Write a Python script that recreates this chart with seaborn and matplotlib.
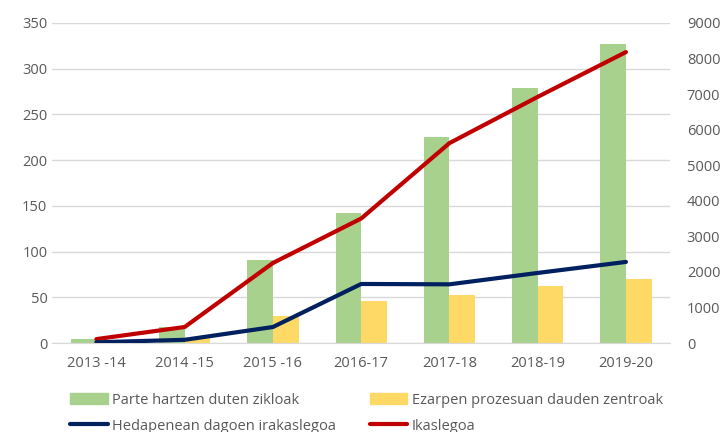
import numpy as np
import pandas as pd
import seaborn as sns
import matplotlib.pyplot as plt
from matplotlib.lines import Line2D
from matplotlib.patches import Patch

years = ["2013 -14", "2014 -15", "2015 -16", "2016-17", "2017-18", "2018-19", "2019-20"]
zikloak = [4, 17, 91, 142, 225, 279, 327]
zentroak = [2, 5, 29, 46, 52, 62, 70]
irakaslegoa = [20, 90, 450, 1660, 1650, 1970, 2280]
ikaslegoa = [110, 450, 2250, 3500, 5620, 6920, 8180]

bar_names = ["Parte hartzen duten zikloak", "Ezarpen prozesuan dauden zentroak"]
line_names = ["Hedapenean dagoen irakaslegoa", "Ikaslegoa"]

green = "#A9D18E"
yellow = "#FFD966"
navy = "#002060"
red = "#C00000"
grey_txt = "#595959"

sns.set_style("white")
plt.rcParams['font.family'] = ['Open Sans', 'DejaVu Sans']

bars = pd.DataFrame({
    "year": years * 2,
    "value": zikloak + zentroak,
    "serie": [bar_names[0]] * len(years) + [bar_names[1]] * len(years),
})
lines = pd.DataFrame({"year": years, "irak": irakaslegoa, "ikas": ikaslegoa})

fig = plt.figure(figsize=(7.26, 4.32), dpi=100)
ax = fig.add_axes([0.072, 0.206, 0.851, 0.741])

sns.barplot(data=bars, x="year", y="value", hue="serie", palette=[green, yellow],
            width=0.58, saturation=1, linewidth=0, ax=ax, legend=False)
ax.set_ylim(0, 350)
ax.set_yticks(range(0, 351, 50))
ax.set_xlim(-0.5, len(years) - 0.5)
ax.grid(axis="y", color="#D9D9D9", linewidth=1)
ax.set_axisbelow(True)
for s in ["top", "left", "right"]:
    ax.spines[s].set_visible(False)
ax.spines["bottom"].set_color("#D9D9D9")
ax.set_xlabel("")
ax.set_ylabel("")
ax.tick_params(axis="both", length=0, labelsize=10.5, labelcolor=grey_txt)
ax.tick_params(axis="x", pad=9)

ax2 = ax.twinx()
sns.lineplot(data=lines, x="year", y="ikas", color=red, linewidth=3, ax=ax2, sort=False)
sns.lineplot(data=lines, x="year", y="irak", color=navy, linewidth=3, ax=ax2, sort=False)
ax2.set_ylim(0, 9000)
ax2.set_yticks(range(0, 9001, 1000))
ax2.set_xlim(-0.5, len(years) - 0.5)
for s in ["top", "left", "right", "bottom"]:
    ax2.spines[s].set_visible(False)
ax2.set_ylabel("")
ax2.tick_params(axis="y", length=0, labelsize=10.5, labelcolor=grey_txt, pad=12)

handles = [
    Patch(color=green, label=bar_names[0]),
    Line2D([], [], color=navy, linewidth=3, label=line_names[0]),
    Patch(color=yellow, label=bar_names[1]),
    Line2D([], [], color=red, linewidth=3, label=line_names[1]),
]
leg = fig.legend(handles=handles, ncol=2, loc="upper left", bbox_to_anchor=(0.086, 0.108),
                 frameon=False, fontsize=10.5, handlelength=2.6, handleheight=0.7,
                 columnspacing=2.3, labelspacing=0.75, handletextpad=0.3, borderpad=0)
for t in leg.get_texts():
    t.set_color(grey_txt)

fig.savefig("out.png", dpi=100)
